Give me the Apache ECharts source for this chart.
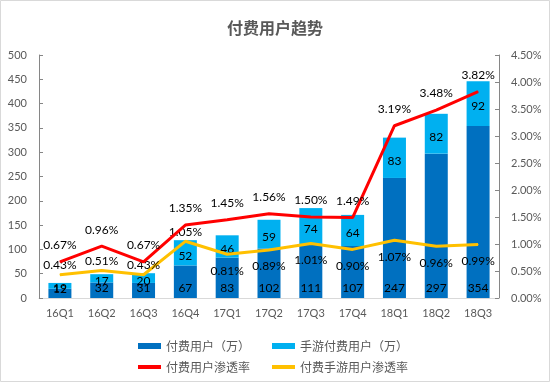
<!DOCTYPE html>
<html><head><meta charset="utf-8">
<script src="https://cdn.jsdelivr.net/npm/echarts@6/dist/echarts.min.js"></script>
<style>html,body{margin:0;padding:0;background:#fff}#c{width:550px;height:382px}</style>
</head><body><div id="c"></div>
<script>
const categories = ['16Q1','16Q2','16Q3','16Q4','17Q1','17Q2','17Q3','17Q4','18Q1','18Q2','18Q3'];
const paidUsers = [19,32,31,67,83,102,111,107,247,297,354];
const mobilePaidUsers = [12,17,20,52,46,59,74,64,83,82,92];
const paidRate = [0.67,0.96,0.67,1.35,1.45,1.56,1.50,1.49,3.19,3.48,3.82];
const mobileRate = [0.43,0.51,0.43,1.05,0.81,0.89,1.01,0.90,1.07,0.96,0.99];
const leftTicks = {min:0, max:500, interval:50};
const rightTicks = {min:0, max:4.5, interval:0.5};

const numFont = 'Lato, "Noto Sans CJK SC", sans-serif';
const cjkFont = '"Noto Sans CJK SC", sans-serif';
const gray = '#595959';
const names = ['付费用户（万）','手游付费用户（万）','付费用户渗透率','付费手游用户渗透率'];

const chart = echarts.init(document.getElementById('c'));
chart.setOption({
  backgroundColor:'#fff',
  animation:false,
  graphic:[{type:'rect',shape:{x:0.5,y:0.5,width:549,height:381},style:{fill:'none',stroke:'#d9d9d9',lineWidth:1}}],
  title:{text:'付费用户趋势',left:'center',top:15,textStyle:{fontFamily:cjkFont,fontSize:16,fontWeight:'bold',color:gray}},
  legend:[
    {data:[{name:names[0],icon:'rect'},{name:names[1],icon:'rect'}],left:133,top:335,itemWidth:23,itemHeight:6,itemGap:22,
     textStyle:{fontFamily:cjkFont,fontSize:12,color:gray}},
    {data:[{name:names[2],icon:'rect'},{name:names[3],icon:'rect'}],left:133,top:356,itemWidth:23,itemHeight:4,itemGap:22,
     textStyle:{fontFamily:cjkFont,fontSize:12,color:gray}}
  ],
  grid:{left:39,right:51,top:55,bottom:84},
  xAxis:{type:'category',data:categories,
    axisLine:{lineStyle:{color:'#d9d9d9'}},axisTick:{show:false},
    axisLabel:{fontFamily:numFont,fontSize:11,color:gray,margin:10}},
  yAxis:[
    {type:'value',min:leftTicks.min,max:leftTicks.max,interval:leftTicks.interval,
     axisLine:{show:true,lineStyle:{color:'#868686'}},axisTick:{show:true,inside:true,length:4,lineStyle:{color:'#868686'}},
     splitLine:{show:false},axisLabel:{fontFamily:numFont,fontSize:11,color:gray,margin:12}},
    {type:'value',min:rightTicks.min,max:rightTicks.max,interval:rightTicks.interval,position:'right',
     axisLine:{show:true,lineStyle:{color:'#868686'}},axisTick:{show:true,inside:true,length:4,lineStyle:{color:'#868686'}},
     splitLine:{show:false},axisLabel:{fontFamily:numFont,fontSize:11,color:gray,margin:12,formatter:v=>v.toFixed(2)+'%'}}
  ],
  series:[
    {name:names[0],type:'bar',stack:'total',barWidth:'55%',data:paidUsers,itemStyle:{color:'#0070C0'},
     label:{show:true,position:'insideBottom',distance:4,fontFamily:numFont,fontSize:12,color:'#000'}},
    {name:names[1],type:'bar',stack:'total',barWidth:'55%',data:mobilePaidUsers,itemStyle:{color:'#00B0F0'},
     label:{show:true,position:'inside',offset:[0,3],fontFamily:numFont,fontSize:12,color:'#000'}},
    {name:names[2],type:'line',yAxisIndex:1,data:paidRate,z:5,symbol:'circle',symbolSize:1,
     lineStyle:{color:'#FF0000',width:3},itemStyle:{color:'#FF0000'},
     label:{show:true,position:'top',distance:10,fontFamily:numFont,fontSize:12,color:'#000',formatter:p=>p.value.toFixed(2)+'%'}},
    {name:names[3],type:'line',yAxisIndex:1,z:4,symbol:'circle',symbolSize:1,
     data:mobileRate.map((v,i)=>({value:v,label:{position:i<4?'top':'bottom',distance:i<4?3:10}})),
     lineStyle:{color:'#FFC000',width:3},itemStyle:{color:'#FFC000'},
     label:{show:true,fontFamily:numFont,fontSize:12,color:'#000',formatter:p=>p.value.toFixed(2)+'%'}}
  ]
});
</script></body></html>
